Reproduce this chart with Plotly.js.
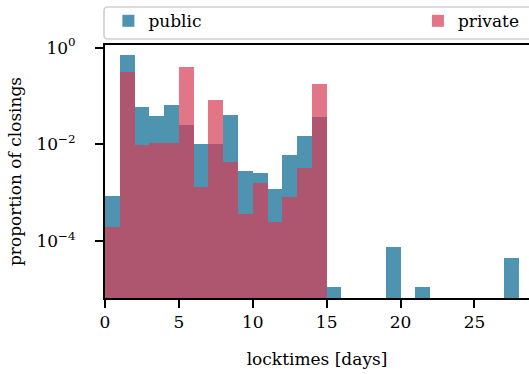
<!DOCTYPE html>
<html>
<head>
<meta charset="utf-8">
<script src="https://cdn.plot.ly/plotly-3.0.1.min.js"></script>
<style>html,body{margin:0;padding:0;overflow:hidden;background:#fff}</style>
</head>
<body>
<div id="chart" style="width:529px;height:374px"></div>
<script>
// bin centers (days), bin width = 1 day
const binCenters = [0.5,1.5,2.5,3.5,4.5,5.5,6.5,7.5,8.5,9.5,10.5,11.5,12.5,13.5,14.5,15.5,16.5,17.5,18.5,19.5,20.5,21.5,22.5,23.5,24.5,25.5,26.5,27.5];
const publicVals = [8.6e-4,0.69,0.0587,0.0383,0.0646,0.025,0.0101,0.0101,0.0402,2.81e-3,2.56e-3,1.2e-3,6.0e-3,0.0148,0.0365,1.14e-5,null,null,null,7.6e-5,null,1.14e-5,null,null,null,null,null,4.5e-5];
const privateVals = [1.97e-4,0.31,9.7e-3,0.0106,0.0106,0.392,1.32e-3,0.0819,4.32e-3,3.71e-4,1.59e-3,2.5e-4,8.2e-4,3.3e-3,0.175];
const seriesNames = ['public','private'];
const yTickVals = [1, 0.01, 0.0001];
const yTickText = ['10<sup>0</sup>','10<sup>\u22122</sup>','10<sup>\u22124</sup>'];
const xTickVals = [0,5,10,15,20,25];

const font = {family:'DejaVu Serif, serif', size:17, color:'#000'};

const traces = [
  {type:'bar', name:seriesNames[0], x:binCenters, y:publicVals, width:1,
   marker:{color:'#04668e', line:{width:0}}, opacity:0.7, legend:'legend'},
  {type:'bar', name:seriesNames[1], x:binCenters.slice(0, privateVals.length), y:privateVals, width:1,
   marker:{color:'#d73d55', line:{width:0}}, opacity:0.7, legend:'legend2'}
];

// legend frame (rounded box spanning the axes width)
const lx0 = -0.0024, lx1 = 1.03, ly0 = 1.0237, ly1 = 1.1502, rx = 0.0094, ry = 0.0158;
const framePath = `M${lx0+rx},${ly1} L${lx1},${ly1} L${lx1},${ly0} L${lx0+rx},${ly0} Q${lx0},${ly0} ${lx0},${ly0+ry} L${lx0},${ly1-ry} Q${lx0},${ly1} ${lx0+rx},${ly1} Z`;

const legendCommon = {orientation:'h', yanchor:'top', y:1.165, xanchor:'left',
  bgcolor:'rgba(0,0,0,0)', borderwidth:0, font:font};

const layout = {
  width:529, height:374,
  margin:{l:105, r:0, t:45, b:76},
  paper_bgcolor:'#fff', plot_bgcolor:'#fff',
  font:font,
  barmode:'overlay', bargap:0,
  showlegend:true,
  legend:Object.assign({}, legendCommon, {x:0.008}),
  legend2:Object.assign({}, legendCommon, {x:0.738}),
  shapes:[{type:'path', xref:'paper', yref:'paper', path:framePath,
    line:{color:'#cfcfcf', width:1.6}, fillcolor:'#ffffff', layer:'below'}],
  xaxis:{range:[0,28.69], tickvals:xTickVals, ticks:'outside', ticklen:8, tickwidth:2,
    tickcolor:'#000', showline:true, linecolor:'#000', linewidth:2, mirror:true,
    showgrid:false, zeroline:false,
    title:{text:'locktimes [days]', font:font, standoff:22}},
  yaxis:{type:'log', range:[-5.17,0.054], tickvals:yTickVals, ticktext:yTickText,
    ticks:'outside', ticklen:8, tickwidth:2, tickcolor:'#000',
    showline:true, linecolor:'#000', linewidth:2, mirror:false,
    showgrid:false, zeroline:false, ticklabelstandoff:16,
    title:{text:'proportion of closings', font:font, standoff:10}}
};

Plotly.newPlot('chart', traces, layout, {staticPlot:true, displayModeBar:false});
</script>
</body>
</html>
